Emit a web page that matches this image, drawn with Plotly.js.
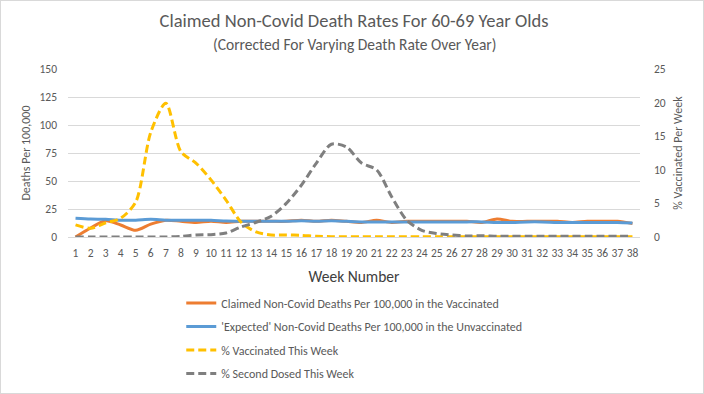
<!DOCTYPE html>
<html><head><meta charset="utf-8">
<script src="https://cdn.plot.ly/plotly-3.0.1.min.js"></script>
<style>html,body{margin:0;padding:0;background:#fff}#wrap{width:702px;height:392px;border:1px solid #d9d9d9}</style>
</head><body><div id="wrap"><div id="chart" style="width:702px;height:392px"></div></div>
<script>
const weeks = Array.from({length:38},(_,i)=>i+1);
const claimedVaccinated = [0,8,14.5,10.7,6,11.5,15,14,13,14,13,14,14,14,14,15,14,15,14,13,15,13,14,14,14,14,14,13,16,14,14,14,14,13,14,14,14,12];
const expectedUnvaccinated = [16.7,16,15.8,15,15,15.8,15,15,15,15,14.2,14,14,14,14,14.5,14,14.5,14,13.5,13.5,13.5,13.5,13.5,13.5,13.5,13.5,13.5,13,13,13.5,13.5,13,13,13,13,13,12.5];
const pctVaccinated = [1.8,1.3,2.1,2.8,5.2,15.6,19.9,12.7,11,8.5,5.5,2.2,0.75,0.3,0.3,0.25,0.1,0.05,0.05,0.05,0.05,0.05,0.05,0.05,0.05,0.05,0.05,0.05,0.05,0.05,0.05,0.05,0.05,0.05,0.05,0.05,0.05,0.05];
const pctSecondDosed = [0,0,0,0,0,0,0,0.1,0.3,0.35,0.6,1.5,2.2,3.1,5,7.7,11,13.8,13.4,11,10,6,2.5,1,0.5,0.3,0.15,0.2,0.1,0.1,0.1,0.1,0.1,0.1,0.1,0.1,0.1,0.1];
const names = ["Claimed Non-Covid Deaths Per 100,000 in the Vaccinated","'Expected' Non-Covid Deaths Per 100,000 in the Unvaccinated","% Vaccinated This Week","% Second Dosed This Week"];
const titleText = "Claimed Non-Covid Death Rates For 60-69 Year Olds";
const subtitleText = "(Corrected For Varying Death Rate Over Year)";

const F = "Calibri, Carlito, 'Liberation Sans Narrow', 'Liberation Sans', Arial, sans-serif";
const sm = 0.8;
const traces = [
  {x:weeks,y:claimedVaccinated,name:names[0],type:'scatter',mode:'lines',line:{color:'#ED7D31',width:3,shape:'spline',smoothing:sm},legendgroup:'a'},
  {x:weeks,y:expectedUnvaccinated,name:names[1],type:'scatter',mode:'lines',line:{color:'#5B9BD5',width:3,shape:'spline',smoothing:sm},legendgroup:'b'},
  {x:weeks,y:pctVaccinated,name:names[2],yaxis:'y2',type:'scatter',mode:'lines',line:{color:'#FFC000',width:3,dash:'8px,4px',shape:'spline',smoothing:sm},legendgroup:'c'},
  {x:weeks,y:pctSecondDosed,name:names[3],yaxis:'y2',type:'scatter',mode:'lines',line:{color:'#7F7F7F',width:3,dash:'8px,4px',shape:'spline',smoothing:sm},legendgroup:'d'}
];
const layout = {
  width:702,height:392,
  margin:{l:66.5,r:62.5,t:68,b:156,pad:0,autoexpand:false},
  paper_bgcolor:'#fff',plot_bgcolor:'#fff',
  font:{family:F,color:'#595959',size:11},
  title:{text:titleText,x:0.5,xanchor:'center',xref:'paper',y:0.949,yanchor:'middle',font:{family:F,size:18.5,color:'#595959'}},
  annotations:[{text:subtitleText,xref:'paper',yref:'paper',x:0.5,y:1.143,xanchor:'center',yanchor:'middle',showarrow:false,font:{family:F,size:15.5,color:'#595959'}}],
  xaxis:{range:[0.5,38.5],tickvals:weeks,ticktext:weeks.map(String),showgrid:false,zeroline:false,
         showline:true,linecolor:'#d9d9d9',linewidth:1,ticks:'',ticklabelstandoff:5,tickfont:{size:11.5,color:'#595959'},
         title:{text:'Week Number',font:{size:15.5,color:'#404040'},standoff:12}},
  yaxis:{range:[0,150],dtick:25,gridcolor:'#d9d9d9',gridwidth:1,zeroline:false,showline:false,ticks:'',ticklabelstandoff:10,
         tickfont:{size:11.5,color:'#595959'},title:{text:'Deaths Per 100,000',font:{size:12,color:'#595959'},standoff:6}},
  yaxis2:{range:[0,25],dtick:5,overlaying:'y',side:'right',showgrid:false,zeroline:false,showline:false,ticks:'',ticklabelstandoff:13,
         tickfont:{size:11.5,color:'#595959'},title:{text:'% Vaccinated Per Week',font:{size:12,color:'#595959'},standoff:8}},
  showlegend:true,
  legend:{orientation:'v',x:0.198,xanchor:'left',yref:'container',y:0.2666,yanchor:'top',traceorder:'grouped',tracegroupgap:4.5,
          font:{size:12,color:'#595959'},bgcolor:'rgba(0,0,0,0)'}
};
Plotly.newPlot('chart',traces,layout,{displayModeBar:false,staticPlot:true});
</script></body></html>
